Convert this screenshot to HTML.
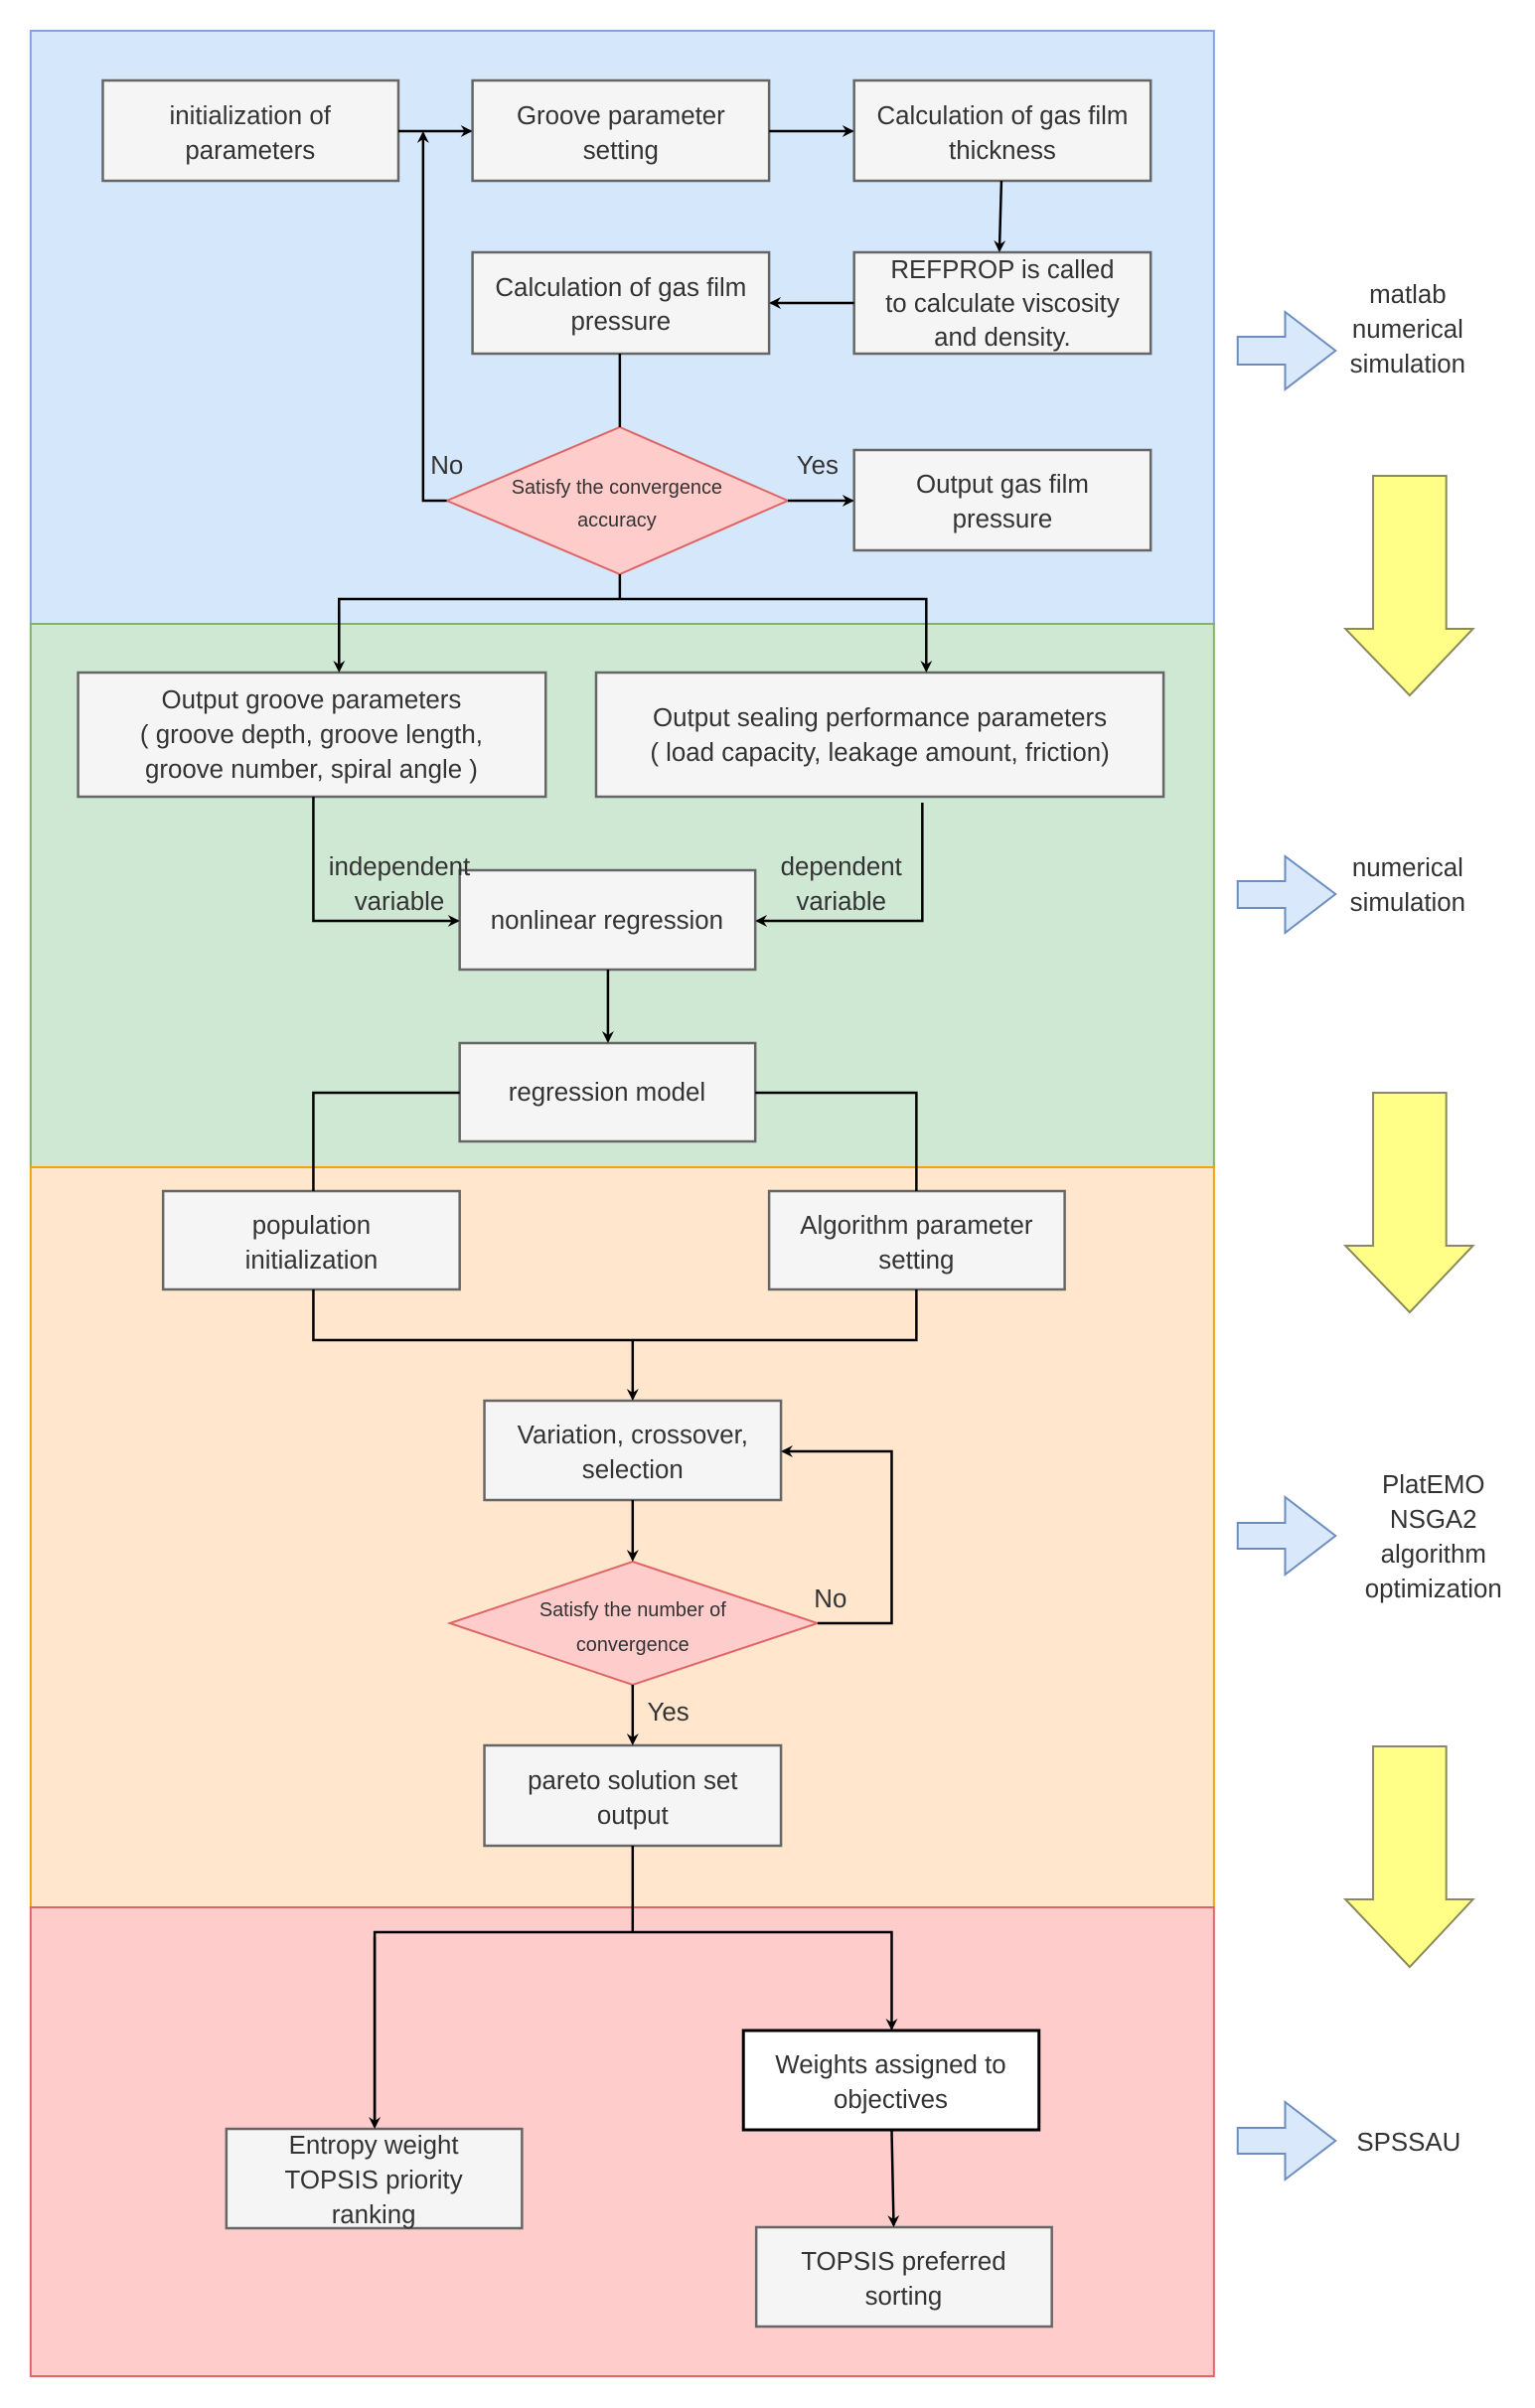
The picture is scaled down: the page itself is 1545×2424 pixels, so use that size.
<!DOCTYPE html>
<html><head><meta charset="utf-8"><style>
html,body{margin:0;padding:0;background:#fff;}
svg{display:block;}
text{font-family:"Liberation Sans",sans-serif;fill:#333;}
</style></head><body>
<svg width="1545" height="2424" viewBox="0 0 1545 2424" xmlns="http://www.w3.org/2000/svg">
<defs>
<marker id="ah" markerWidth="12" markerHeight="12" refX="10" refY="6" orient="auto" markerUnits="userSpaceOnUse">
<path d="M0,0 L12,6 L0,12 L4,6 Z" fill="#000"/>
</marker>
</defs>
<g transform="scale(0.995,1)">
<rect x="31" y="31" width="1197" height="597" fill="#d4e7fb" stroke="#7ea6e0" stroke-width="2"/>
<rect x="31" y="628" width="1197" height="547" fill="#cfe8d3" stroke="#82b366" stroke-width="2"/>
<rect x="31" y="1175" width="1197" height="745" fill="#ffe6cc" stroke="#f0a30a" stroke-width="2"/>
<rect x="31" y="1920" width="1197" height="472" fill="#ffcccc" stroke="#e06666" stroke-width="2"/>

<g fill="#f5f5f5" stroke="#666" stroke-width="2.5">
<rect x="104" y="81" width="299" height="101"/>
<rect x="478" y="81" width="300" height="101"/>
<rect x="864" y="81" width="300" height="101"/>
<rect x="864" y="254" width="300" height="102"/>
<rect x="478" y="254" width="300" height="102"/>
<rect x="864" y="453" width="300" height="101"/>
<rect x="79" y="677" width="473" height="125"/>
<rect x="603" y="677" width="574" height="125"/>
<rect x="465" y="876" width="299" height="100"/>
<rect x="465" y="1050" width="299" height="99"/>
<rect x="165" y="1199" width="300" height="99"/>
<rect x="778" y="1199" width="299" height="99"/>
<rect x="490" y="1410" width="300" height="100"/>
<rect x="490" y="1757" width="300" height="101"/>
<rect x="229" y="2143" width="299" height="100"/>
<rect x="765" y="2242" width="299" height="100"/>
</g>
<rect x="752" y="2044" width="299" height="100" fill="#fff" stroke="#000" stroke-width="3"/>

<polygon points="627,430 797,504 627,578 452,504" fill="#ffcccc" stroke="#e06666" stroke-width="2"/>
<polygon points="640,1572 827,1634 640,1696 455,1634" fill="#ffcccc" stroke="#e06666" stroke-width="2"/>

<g stroke="#000" stroke-width="2.5" fill="none">
<line x1="403" y1="132" x2="476" y2="132" marker-end="url(#ah)"/>
<polyline points="452,504 428,504 428,134" marker-end="url(#ah)"/>
<line x1="778" y1="132" x2="862" y2="132" marker-end="url(#ah)"/>
<line x1="1013" y1="182" x2="1011" y2="252" marker-end="url(#ah)"/>
<line x1="864" y1="305" x2="780" y2="305" marker-end="url(#ah)"/>
<line x1="627" y1="356" x2="627" y2="430"/>
<line x1="797" y1="504" x2="862" y2="504" marker-end="url(#ah)"/>
<polyline points="627,578 627,603"/>
<polyline points="343,675 343,603 937,603 937,675" marker-end="url(#ah)"/>
<line x1="343" y1="610" x2="343" y2="675" marker-end="url(#ah)"/>
<polyline points="317,802 317,927 463,927" marker-end="url(#ah)"/>
<polyline points="933,808 933,927 766,927" marker-end="url(#ah)"/>
<line x1="615" y1="976" x2="615" y2="1048" marker-end="url(#ah)"/>
<polyline points="465,1100 317,1100 317,1199"/>
<polyline points="764,1100 927,1100 927,1199"/>
<polyline points="317,1298 317,1349 927,1349 927,1298"/>
<line x1="640" y1="1349" x2="640" y2="1408" marker-end="url(#ah)"/>
<line x1="640" y1="1510" x2="640" y2="1570" marker-end="url(#ah)"/>
<polyline points="827,1634 902,1634 902,1461 792,1461" marker-end="url(#ah)"/>
<line x1="640" y1="1696" x2="640" y2="1755" marker-end="url(#ah)"/>
<polyline points="640,1858 640,1945"/>
<polyline points="379,2141 379,1945 902,1945 902,2042" marker-end="url(#ah)"/>
<line x1="379" y1="1950" x2="379" y2="2141" marker-end="url(#ah)"/>
<line x1="902" y1="2144" x2="904" y2="2240" marker-end="url(#ah)"/>
</g>

<g fill="#dae8fc" stroke="#6c8ebf" stroke-width="2">
<polygon points="1252,339 1300,339 1300,314 1351,353 1300,392 1300,367 1252,367"/>
<polygon points="1252,887 1300,887 1300,862 1351,900 1300,939 1300,914 1252,914"/>
<polygon points="1252,1533 1300,1533 1300,1507 1351,1546 1300,1585 1300,1559 1252,1559"/>
<polygon points="1252,2142 1300,2142 1300,2116 1351,2155 1300,2194 1300,2168 1252,2168"/>
</g>
<g fill="#ffff88" stroke="#8a8a5a" stroke-width="2">
<polygon points="1389,479 1463,479 1463,633 1490,633 1426,700 1361,633 1389,633"/>
<polygon points="1389,1100 1463,1100 1463,1254 1490,1254 1426,1321 1361,1254 1389,1254"/>
<polygon points="1389,1758 1463,1758 1463,1912 1490,1912 1426,1980 1361,1912 1389,1912"/>
</g>

<g font-size="26" text-anchor="middle">
<text x="253" y="125">initialization of</text><text x="253" y="160">parameters</text>
<text x="628" y="125">Groove parameter</text><text x="628" y="160">setting</text>
<text x="1014" y="125">Calculation of gas film</text><text x="1014" y="160">thickness</text>
<text x="1014" y="280">REFPROP is called</text><text x="1014" y="314">to calculate viscosity</text><text x="1014" y="348">and density.</text>
<text x="628" y="298">Calculation of gas film</text><text x="628" y="332">pressure</text>
<text x="1014" y="496">Output gas film</text><text x="1014" y="531">pressure</text>
<text x="315" y="713">Output groove parameters</text><text x="315" y="748">( groove depth, groove length,</text><text x="315" y="783">groove number, spiral angle )</text>
<text x="890" y="731">Output sealing performance parameters</text><text x="890" y="766">( load capacity, leakage amount, friction)</text>
<text x="614" y="935">nonlinear regression</text>
<text x="614" y="1108">regression model</text>
<text x="315" y="1242">population</text><text x="315" y="1277">initialization</text>
<text x="927" y="1242">Algorithm parameter</text><text x="927" y="1277">setting</text>
<text x="640" y="1453">Variation, crossover,</text><text x="640" y="1488">selection</text>
<text x="640" y="1801">pareto solution set</text><text x="640" y="1836">output</text>
<text x="378" y="2168">Entropy weight</text><text x="378" y="2203">TOPSIS priority</text><text x="378" y="2238">ranking</text>
<text x="901" y="2087">Weights assigned to</text><text x="901" y="2122">objectives</text>
<text x="914" y="2285">TOPSIS preferred</text><text x="914" y="2320">sorting</text>
<text x="404" y="881">independent</text><text x="404" y="916">variable</text>
<text x="851" y="881">dependent</text><text x="851" y="916">variable</text>
<text x="1424" y="305">matlab</text><text x="1424" y="340">numerical</text><text x="1424" y="375">simulation</text>
<text x="1424" y="882">numerical</text><text x="1424" y="917">simulation</text>
<text x="1450" y="1503">PlatEMO</text><text x="1450" y="1538">NSGA2</text><text x="1450" y="1573">algorithm</text><text x="1450" y="1608">optimization</text>
<text x="1425" y="2165">SPSSAU</text>
<text x="452" y="477">No</text>
<text x="827" y="477">Yes</text>
<text x="840" y="1618">No</text>
<text x="676" y="1732">Yes</text>
</g>
<g font-size="20" text-anchor="middle">
<text x="624" y="497">Satisfy the convergence</text><text x="624" y="530">accuracy</text>
<text x="640" y="1627">Satisfy the number of</text><text x="640" y="1662">convergence</text>
</g>
</g>
</svg>
</body></html>
